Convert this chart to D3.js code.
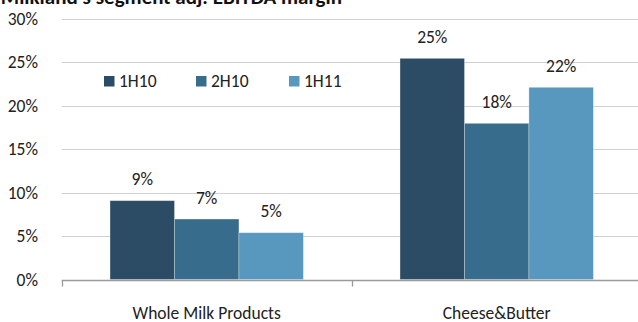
<!DOCTYPE html>
<html><head><meta charset="utf-8">
<script src="https://cdn.jsdelivr.net/npm/d3@7"></script>
<style>body{margin:0;background:#fff;} svg{display:block;font-family:Carlito, Calibri, Lato, sans-serif;}</style>
</head><body><svg id="c" width="638" height="322"></svg>
<script>
const title = "Milkland's segment adj. EBITDA margin";
const categories = ["Whole Milk Products", "Cheese&Butter"];
const seriesNames = ["1H10", "2H10", "1H11"];
const v1H10 = [9.06, 25.42];
const v2H10 = [6.95, 17.95];
const v1H11 = [5.38, 22.09];
const labels1H10 = ["9%", "25%"];
const labels2H10 = ["7%", "18%"];
const labels1H11 = ["5%", "22%"];
const yTicks = [0, 5, 10, 15, 20, 25, 30];
const colors = ["#2b4c64", "#386c8c", "#5897be"];

const values = [v1H10, v2H10, v1H11];
const labels = [labels1H10, labels2H10, labels1H11];
const svg = d3.select("#c");
const pLeft = 61.7, pRight = 641.7, pTop = 18.5, pBottom = 279.5;
const fs = 17.5;

const x0 = d3.scaleBand().domain(categories).range([pLeft, pRight]).paddingInner(0).paddingOuter(0);
const x1 = d3.scaleBand().domain(seriesNames).range([0, x0.bandwidth()]).paddingInner(0).paddingOuter(0.75);
const y = d3.scaleLinear().domain([0, 30]).range([pBottom, pTop]);

// gridlines
svg.append("g").selectAll("line").data(yTicks.filter(d => d > 0)).join("line")
  .attr("x1", pLeft).attr("x2", 638).attr("y1", d => Math.round(y(d)) + 0.5).attr("y2", d => Math.round(y(d)) + 0.5)
  .attr("stroke", "#d0d0d0").attr("stroke-width", 1);

// y tick labels
svg.append("g").selectAll("text").data(yTicks).join("text")
  .attr("x", 38).attr("y", d => y(d) + 6).attr("text-anchor", "end")
  .attr("font-size", fs).attr("fill", "#222").text(d => d + "%");

// bars
const g = svg.append("g");
seriesNames.forEach((s, si) => {
  categories.forEach((c, ci) => {
    const bx = x0(c) + x1(s);
    const v = values[si][ci];
    g.append("rect").attr("x", bx).attr("y", y(v)).attr("width", x1.bandwidth()).attr("height", y(0) - y(v))
      .attr("fill", colors[si]).attr("stroke", "#ffffff").attr("stroke-opacity", 0.35).attr("stroke-width", 0.8);
    g.append("text").attr("x", bx + x1.bandwidth() / 2).attr("y", y(v) - 15.5).attr("text-anchor", "middle")
      .attr("font-size", fs).attr("fill", "#222").text(labels[si][ci]);
  });
});

// x axis
const xAxis = svg.append("g").attr("transform", `translate(0,${Math.round(pBottom) + 0.5})`);
xAxis.append("line").attr("x1", pLeft).attr("x2", 638).attr("stroke", "#9a9a9a").attr("stroke-width", 1.3);
const tickXs = [pLeft, pLeft + x0.bandwidth(), pRight];
xAxis.selectAll("line.t").data(tickXs).join("line").attr("class", "t")
  .attr("x1", d => Math.round(d) + 0.5).attr("x2", d => Math.round(d) + 0.5).attr("y1", 0).attr("y2", 6)
  .attr("stroke", "#9a9a9a").attr("stroke-width", 1.3);
svg.append("g").selectAll("text").data(categories).join("text")
  .attr("x", d => x0(d) + x0.bandwidth() / 2).attr("y", 318.5).attr("text-anchor", "middle")
  .attr("font-size", fs).attr("fill", "#222").text(d => d);

// legend
const legX = [104, 196, 289];
const leg = svg.append("g");
seriesNames.forEach((s, i) => {
  leg.append("rect").attr("x", legX[i]).attr("y", 76).attr("width", 10.5).attr("height", 10.5).attr("fill", colors[i]);
  leg.append("text").attr("x", legX[i] + 15).attr("y", 87).attr("font-size", fs).attr("fill", "#222").text(s);
});

// title (clipped at top as in reference)
svg.append("text").attr("x", 342).attr("y", 4).attr("text-anchor", "end")
  .attr("font-size", 21).attr("font-weight", "bold").attr("fill", "#111").text(title);
</script></body></html>
